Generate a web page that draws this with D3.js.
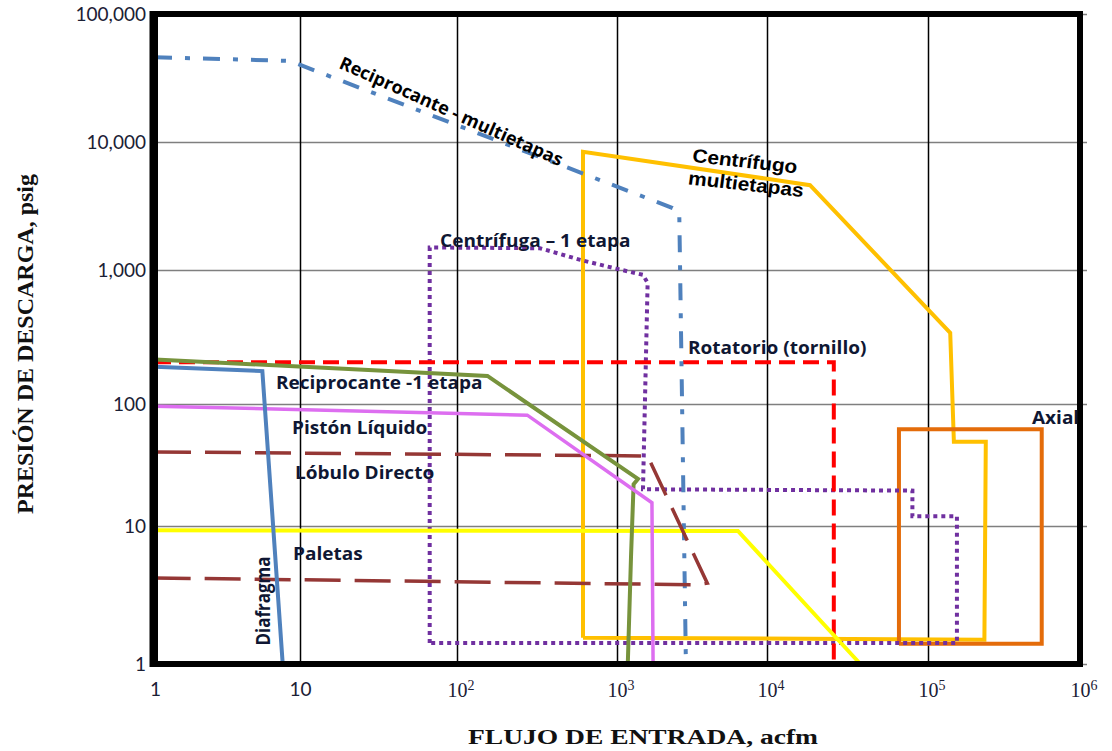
<!DOCTYPE html>
<html>
<head>
<meta charset="utf-8">
<script src="https://cdn.jsdelivr.net/npm/d3@7"></script>
<style>
  body { margin: 0; background: #fff; }
  svg { display: block; }
</style>
</head>
<body>
<svg id="chart" width="1112" height="751"></svg>
<script>
// [flujo acfm, presion psig]
const recipMulti = [[1, 46000], [8.5, 43000], [2350, 3050], [2600, 2850], [2880, 1]];
const centMulti = [[613, 1.55], [613, 8400], [18500, 4600], [140000, 340], [148000, 49], [240000, 49], [235000, 1.5], [613, 1.55]];
const cent1 = [[67, 1.42], [67, 1500], [330, 1480], [590, 1200], [940, 1040], [1490, 920], [1600, 800], [1490, 20], [80000, 19.5], [80000, 12], [155000, 12], [155000, 1.42], [67, 1.42]];
const rotatorio = [[1, 205], [26000, 205], [26000, 1]];
const recip1 = [[1, 215], [155, 162], [1380, 24.3], [1290, 22], [1240, 6], [1180, 1]];
const piston = [[1, 96], [275, 81], [1710, 15.5], [1740, 1]];
const lobulo = [[1, 40.5], [1600, 37.5], [4000, 3.85], [3400, 3.75], [1, 4.2]];
const paletas = [[1, 9.3], [6400, 9.2], [38000, 1]];
const diafragma = [[1, 190], [5.5, 176], [7.6, 1]];
const axial = [[66000, 1.4], [66000, 62], [560000, 62], [560000, 1.4], [66000, 1.4]];

const xTicks = [1, 10, 100, 1000, 10000, 100000, 1000000];
const yTicks = [1, 10, 100, 1000, 10000, 100000];

// the scanned figure is a little wider than tall, so most labels get stretched (sx)
const labels = [
  {text: "Reciprocante - multietapas", at: [92, 17400], rot: 24, anchor: "middle", color: "#000", size: 18, sx: 1},
  {text: "Centrífugo", at: [7130, 7110], rot: 7, anchor: "middle", color: "#000", font: "Liberation Sans", size: 19, sx: 1.1},
  {text: "multietapas", at: [7240, 4700], rot: 7, anchor: "middle", color: "#000", font: "Liberation Sans", size: 19, sx: 1.1},
  {text: "Centrífuga – 1 etapa", at: [78, 1690]},
  {text: "Rotatorio (tornillo)", at: [2970, 262]},
  {text: "Reciprocante -1 etapa", at: [6.83, 143]},
  {text: "Pistón Líquido", at: [8.8, 63.6]},
  {text: "Lóbulo Directo", at: [9.24, 27.2]},
  {text: "Paletas", at: [8.95, 6.27]},
  {text: "Diafragma", at: [5.56, 2.86], rot: -90, anchor: "middle"},
  {text: "Axial", at: [483000, 76.8]}
];

const svg = d3.select("#chart");

// the grid in the source is not evenly spaced, so each decade gets its own stop
const x = d3.scaleLog().domain(xTicks).range([155, 300, 457, 617, 767, 928, 1080]);
const y = d3.scaleLog().domain(yTicks).range([664, 526, 404, 270, 142, 14]);

const plotL = x(1), plotR = x(1e6), plotT = y(1e5), plotB = y(1);

// horizontal grid + y labels
const yAxis = svg.append("g")
  .attr("transform", `translate(${plotL},0)`)
  .call(d3.axisLeft(y).tickValues(yTicks).tickSize(-(plotR - plotL + 7)).tickPadding(9).tickFormat(d3.format(",")));
yAxis.select(".domain").remove();
yAxis.selectAll("line").attr("stroke", "#7f7f7f").attr("stroke-width", 1.5);
yAxis.selectAll("text")
  .attr("font-family", "Lato").attr("font-size", 19).attr("fill", "#1b2035");

// vertical grid + x labels
const xAxis = svg.append("g")
  .attr("transform", `translate(0,${plotB})`)
  .call(d3.axisBottom(x).tickValues(xTicks).tickSize(-(plotB - plotT)).tickPadding(19).tickFormat(""));
xAxis.select(".domain").remove();
xAxis.selectAll("line").attr("stroke", "#000").attr("stroke-width", 1.5);
xAxis.selectAll("text").each(function (d) {
  const t = d3.select(this).attr("fill", "#1b2035").attr("font-size", 19);
  if (d < 100) {
    t.attr("font-family", "Lato").text(d);
  } else {
    t.attr("font-family", "Liberation Serif").attr("font-size", 20).attr("text-anchor", "start").attr("x", -10);
    t.append("tspan").text("10");
    t.append("tspan").text(Math.round(Math.log10(d))).attr("font-size", 14).attr("dy", -7);
  }
});

const line = d3.line().x(d => x(d[0])).y(d => y(d[1]));

const series = [
  {data: centMulti, color: "#ffc000", width: 4},
  {data: axial, color: "#e46c0a", width: 4},
  {data: cent1, color: "#7030a0", width: 4, dash: "4,4"},
  {data: rotatorio, color: "#ff0000", width: 4, dash: "16,8"},
  {data: recipMulti, color: "#4f81bd", width: 4, dash: "17,13,5,13"},
  {data: paletas, color: "#ffff00", width: 4},
  {data: lobulo, color: "#953735", width: 3.5, dash: "36,14"},
  {data: recip1, color: "#77933c", width: 4},
  {data: piston, color: "#dd6ef0", width: 3.5},
  {data: diafragma, color: "#4f81bd", width: 4}
];

svg.append("g").selectAll("path")
  .data(series)
  .enter()
  .append("path")
  .attr("d", d => line(d.data))
  .attr("fill", "none")
  .attr("stroke", d => d.color)
  .attr("stroke-width", d => d.width)
  .attr("stroke-dasharray", d => d.dash || null);

// heavy frame
svg.append("rect")
  .attr("x", plotL).attr("y", plotT)
  .attr("width", plotR - plotL).attr("height", plotB - plotT)
  .attr("fill", "none").attr("stroke", "#000").attr("stroke-width", 6);
svg.append("line")
  .attr("x1", plotL - 2).attr("x2", plotL - 2)
  .attr("y1", plotT - 3).attr("y2", plotB + 3)
  .attr("stroke", "#000").attr("stroke-width", 7);

// curve labels
svg.append("g").selectAll("text")
  .data(labels)
  .enter()
  .append("text")
  .attr("transform", d => `translate(${x(d.at[0])},${y(d.at[1])}) scale(${d.sx || 1.12},1) rotate(${d.rot || 0})`)
  .attr("text-anchor", d => d.anchor || "start")
  .attr("dy", "0.35em")
  .attr("font-family", d => d.font || "Open Sans")
  .attr("font-weight", "bold")
  .attr("font-size", d => d.size || 17)
  .attr("fill", d => d.color || "#0f1733")
  .text(d => d.text);

// axis titles
svg.append("text")
  .attr("transform", `translate(33,${(plotT + plotB) / 2 + 5}) rotate(-90)`)
  .attr("text-anchor", "middle")
  .attr("font-family", "Liberation Serif")
  .attr("font-weight", "bold")
  .attr("font-size", 24)
  .attr("fill", "#111")
  .text("PRESIÓN DE DESCARGA, psig");

svg.append("text")
  .attr("x", 468).attr("y", 744)
  .attr("font-family", "Liberation Serif")
  .attr("font-weight", "bold")
  .attr("font-size", 20)
  .attr("textLength", 350)
  .attr("lengthAdjust", "spacingAndGlyphs")
  .attr("fill", "#111")
  .text("FLUJO DE ENTRADA, acfm");
</script>
</body>
</html>
